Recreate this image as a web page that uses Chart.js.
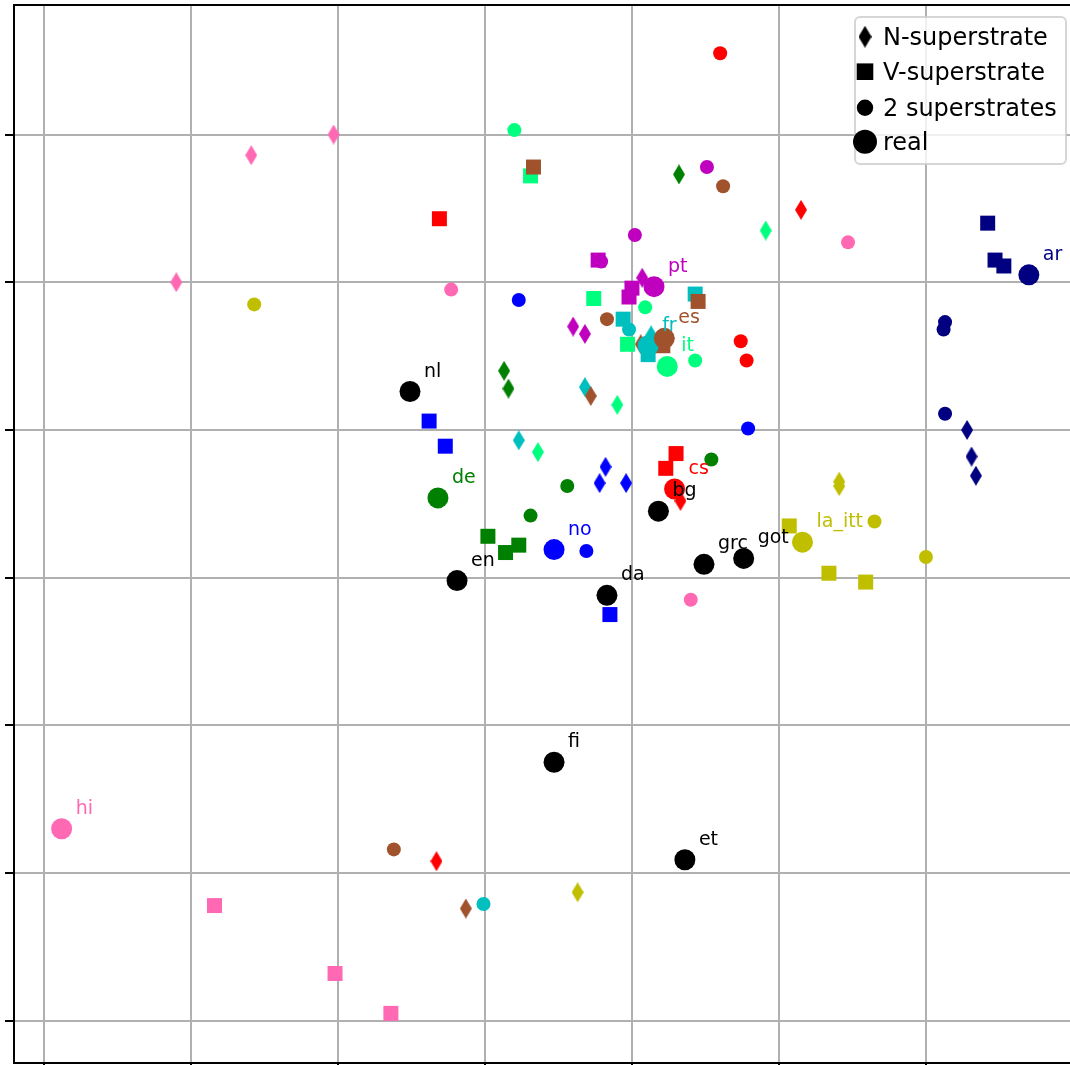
<!DOCTYPE html>
<html>
<head>
<meta charset="utf-8">
<script src="https://cdn.jsdelivr.net/npm/chart.js@4.4.0/dist/chart.umd.min.js"></script>
<style>
  html, body { margin: 0; padding: 0; background: #fff; overflow: hidden; }
</style>
</head>
<body>
<canvas id="c" width="1070" height="1065"></canvas>
<script>
  // languages that have synthetic variants (3 of each kind)
  var synthLangs = ['hi', 'cs', 'no', 'de', 'ar', 'la_itt', 'pt', 'it', 'fr', 'es'];

  // N-superstrate
  var nSupX = [[1.41, 1.97, 0.90], [5.15, 2.67, 4.33], [3.82, 3.78, 3.96], [3.13, 3.16, 4.32], [6.28, 6.31, 6.34],
               [5.41, 5.41, 3.63], [4.07, 3.60, 3.68], [4.91, 3.90, 3.36], [4.13, 3.68, 3.23], [2.87, 3.72, 4.06]];
  var nSupY = [[5.86, 6.00, 5.00], [5.49, 1.08, 3.52], [3.75, 3.64, 3.64], [4.40, 4.28, 5.73], [4.00, 3.82, 3.69],
               [3.65, 3.62, 0.87], [5.03, 4.70, 4.65], [5.35, 4.17, 3.85], [4.64, 4.29, 3.93], [0.76, 4.23, 4.58]];

  // V-superstrate
  var vSupX = [[1.16, 1.98, 2.36], [2.69, 4.30, 4.23], [2.62, 2.73, 3.85], [3.02, 3.23, 3.14], [6.42, 6.47, 6.53],
               [5.07, 5.34, 5.59], [3.77, 4.00, 3.98], [3.31, 3.74, 3.97], [4.43, 3.94, 4.11], [3.33, 4.45, 4.21]];
  var vSupY = [[0.78, 0.32, 0.05], [5.43, 3.84, 3.74], [4.06, 3.89, 2.75], [3.28, 3.22, 3.17], [5.40, 5.15, 5.11],
               [3.35, 3.03, 2.97], [5.15, 4.96, 4.90], [5.72, 4.89, 4.58], [4.92, 4.75, 4.51], [5.78, 4.87, 4.57]];

  // 2 superstrates
  var twoSupX = [[2.77, 5.47, 4.40], [4.60, 4.74, 4.78], [3.23, 3.69, 4.79], [3.56, 3.31, 4.54], [6.13, 6.12, 6.13],
                 [1.43, 5.65, 6.00], [3.79, 4.02, 4.51], [3.20, 4.09, 4.43], [3.98, 2.99, 4.12], [2.38, 3.83, 4.62]];
  var twoSupY = [[4.95, 5.27, 2.85], [6.55, 4.60, 4.47], [4.88, 3.18, 4.01], [3.62, 3.42, 3.80], [4.73, 4.68, 4.11],
                 [4.85, 3.38, 3.14], [5.14, 5.32, 5.78], [6.03, 4.83, 4.47], [4.68, 0.79, 4.55], [1.16, 4.75, 5.65]];

  // real languages
  var realLangs = ['hi', 'cs', 'no', 'de', 'ar', 'la_itt', 'pt', 'it', 'fr', 'es',
                   'nl', 'en', 'da', 'bg', 'grc', 'got', 'fi', 'et'];
  var realX = [0.12, 4.29, 3.47, 2.68, 6.70, 5.16, 4.15, 4.24, 4.11, 4.22,
               2.49, 2.81, 3.83, 4.18, 4.49, 4.76, 3.47, 4.36];
  var realY = [1.30, 3.60, 3.19, 3.54, 5.05, 3.24, 4.97, 4.43, 4.57, 4.62,
               4.26, 2.98, 2.88, 3.45, 3.09, 3.13, 1.75, 1.09];

  var legendNames = ['N-superstrate', 'V-superstrate', '2 superstrates', 'real'];

  // axis limits (no tick labels in the original)
  var xMin = -0.204, xMax = 6.98;
  var yMin = -0.286, yMax = 6.877;

  var langColors = {
    hi: '#ff69b4', cs: '#ff0000', no: '#0000ff', de: '#008000', ar: '#000080',
    la_itt: '#bfbf00', pt: '#bf00bf', it: '#00ff7f', fr: '#00bfbf', es: '#a0522d'
  };
  function colorFor(lang) {
    return langColors[lang] || '#000000';
  }

  // thin diamond marker, like matplotlib 'd'
  var diamondCache = {};
  function thinDiamond(color, scale) {
    var key = color + '_' + scale;
    if (diamondCache[key]) return diamondCache[key];
    var w = Math.round(12 * scale), h = Math.round(20 * scale);
    var cv = document.createElement('canvas');
    cv.width = w; cv.height = h;
    var g = cv.getContext('2d');
    g.fillStyle = color;
    g.beginPath();
    g.moveTo(w / 2, 0);
    g.lineTo(w, h / 2);
    g.lineTo(w / 2, h);
    g.lineTo(0, h / 2);
    g.closePath();
    g.fill();
    diamondCache[key] = cv;
    return cv;
  }

  function toPoints(xs, ys) {
    var pts = [];
    for (var i = 0; i < xs.length; i++) pts.push({x: xs[i], y: ys[i]});
    return pts;
  }

  var datasets = [];
  synthLangs.forEach(function(lang, i) {
    datasets.push({
      label: lang + ' N', data: toPoints(nSupX[i], nSupY[i]),
      pointStyle: thinDiamond(colorFor(lang), 1), pointRadius: 7,
      backgroundColor: colorFor(lang), pointBorderWidth: 0
    });
  });
  synthLangs.forEach(function(lang, i) {
    datasets.push({
      label: lang + ' V', data: toPoints(vSupX[i], vSupY[i]),
      pointStyle: 'rect', pointRadius: 10.6,
      backgroundColor: colorFor(lang), pointBorderWidth: 0
    });
  });
  synthLangs.forEach(function(lang, i) {
    datasets.push({
      label: lang + ' 2', data: toPoints(twoSupX[i], twoSupY[i]),
      pointStyle: 'circle', pointRadius: 7,
      backgroundColor: colorFor(lang), pointBorderWidth: 0
    });
  });
  datasets.push({
    label: 'real', data: toPoints(realX, realY),
    pointStyle: 'circle', pointRadius: 10.5,
    backgroundColor: realLangs.map(colorFor), pointBorderWidth: 0
  });
  // later datasets on top, like the original plotting order
  datasets.forEach(function(ds, i) { ds.order = datasets.length - i; });

  var labelPlugin = {
    id: 'pointLabels',
    afterDatasetsDraw: function(chart) {
      var ctx = chart.ctx;
      var xs = chart.scales.x, ys = chart.scales.y;
      ctx.save();
      ctx.font = '19px "DejaVu Sans"';
      ctx.textBaseline = 'alphabetic';
      for (var i = 0; i < realLangs.length; i++) {
        var px = xs.getPixelForValue(realX[i]);
        var py = ys.getPixelForValue(realY[i]);
        ctx.fillStyle = colorFor(realLangs[i]);
        ctx.fillText(realLangs[i], px + 14, py - 15);
      }
      ctx.restore();
    }
  };

  var legendPlugin = {
    id: 'boxLegend',
    afterDraw: function(chart) {
      var ctx = chart.ctx;
      var bx = 855, by = 17, bw = 211, bh = 147, r = 5;
      ctx.save();
      ctx.beginPath();
      ctx.moveTo(bx + r, by);
      ctx.arcTo(bx + bw, by, bx + bw, by + bh, r);
      ctx.arcTo(bx + bw, by + bh, bx, by + bh, r);
      ctx.arcTo(bx, by + bh, bx, by, r);
      ctx.arcTo(bx, by, bx + bw, by, r);
      ctx.closePath();
      ctx.fillStyle = 'rgba(255,255,255,0.8)';
      ctx.fill();
      ctx.strokeStyle = 'rgba(204,204,204,0.8)';
      ctx.lineWidth = 2;
      ctx.stroke();

      var mx = 865;
      var rows = [36.7, 71.7, 107.7, 141.7];
      ctx.fillStyle = '#000';
      // markers
      var d = thinDiamond('#000000', 1.1);
      ctx.drawImage(d, mx - d.width / 2, rows[0] - d.height / 2);
      ctx.fillRect(mx - 8.3, rows[1] - 8.3, 16.6, 16.6);
      ctx.beginPath(); ctx.arc(mx, rows[2], 8.2, 0, Math.PI * 2); ctx.fill();
      ctx.beginPath(); ctx.arc(mx, rows[3], 12, 0, Math.PI * 2); ctx.fill();
      // texts
      ctx.font = '24px "DejaVu Sans"';
      ctx.textBaseline = 'alphabetic';
      for (var i = 0; i < legendNames.length; i++) {
        ctx.fillText(legendNames[i], 883, rows[i] + 8.5);
      }
      ctx.restore();
    }
  };

  var gridColor = '#b0b0b0';

  new Chart(document.getElementById('c'), {
    type: 'scatter',
    data: { datasets: datasets },
    options: {
      responsive: false,
      animation: false,
      events: [],
      layout: { padding: 0, autoPadding: false },
      plugins: { legend: { display: false }, tooltip: { enabled: false } },
      scales: {
        x: {
          type: 'linear', position: 'bottom', min: xMin, max: xMax,
          ticks: { display: false, stepSize: 1, includeBounds: false },
          grid: { color: gridColor, lineWidth: 2, tickLength: 9, tickColor: '#000', tickWidth: 2 },
          border: { display: true, color: '#000', width: 2 },
          afterFit: function(s) { s.height = 2; }
        },
        xTop: {
          type: 'linear', position: 'top', min: xMin, max: xMax,
          ticks: { display: false },
          grid: { display: false },
          border: { display: true, color: '#000', width: 2 },
          afterFit: function(s) { s.height = 5; }
        },
        y: {
          type: 'linear', position: 'left', min: yMin, max: yMax,
          ticks: { display: false, stepSize: 1, includeBounds: false },
          grid: { color: gridColor, lineWidth: 2, tickLength: 9, tickColor: '#000', tickWidth: 2 },
          border: { display: true, color: '#000', width: 2 },
          afterFit: function(s) { s.width = 14; }
        }
      }
    },
    plugins: [labelPlugin, legendPlugin]
  });
</script>
</body>
</html>
